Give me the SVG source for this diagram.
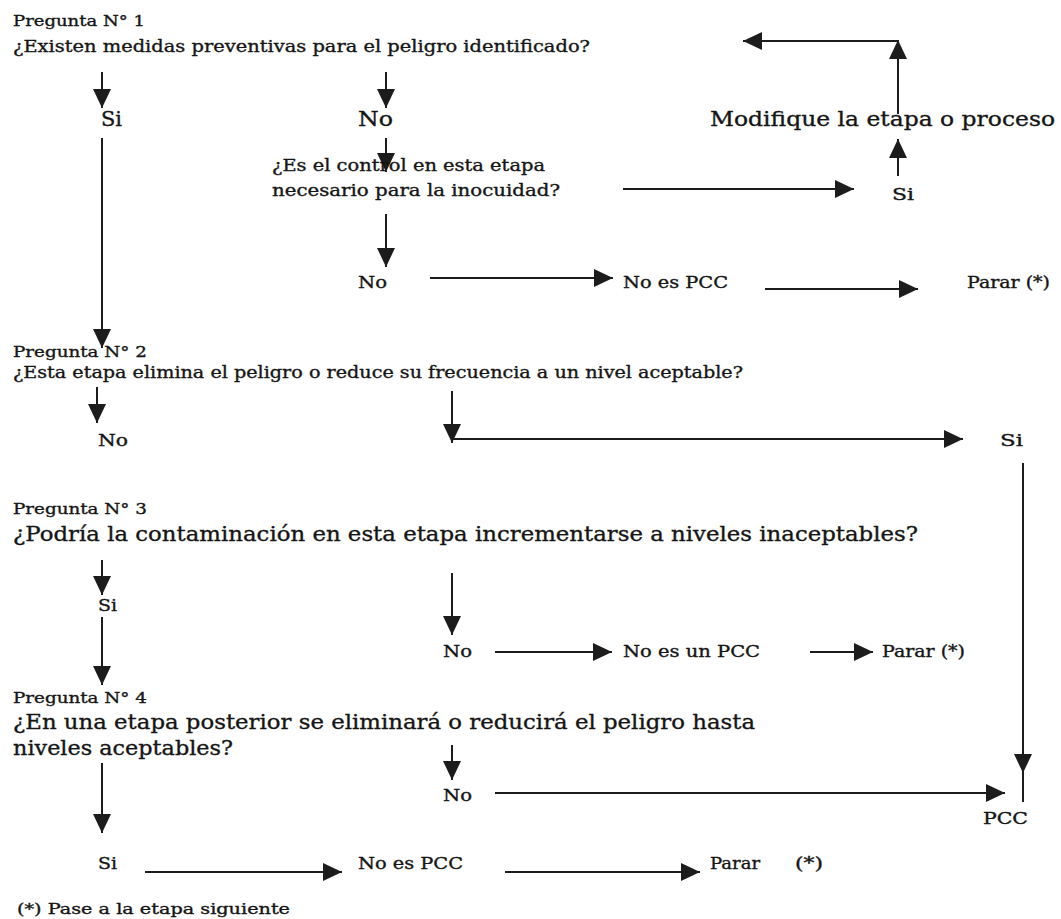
<svg xmlns="http://www.w3.org/2000/svg" width="1061" height="919" viewBox="0 0 1061 919">
<style>
text{font-family:"DejaVu Serif","Liberation Serif",serif;fill:#151515;stroke:#151515;stroke-width:0.35}
.q{font-size:17px}
.s{font-size:15px}
.m{font-size:17px}
.l{font-size:20px}
.lbl{font-size:16px}
.big{font-size:21px}
#connectors line{stroke:#1c1c1c;stroke-width:2;fill:none}
</style>
<defs>
<marker id="ah" viewBox="0 0 19 18" refX="19" refY="9" markerWidth="19" markerHeight="18" markerUnits="userSpaceOnUse" orient="auto">
<path d="M0,0 L19,9 L0,18 z" fill="#1c1c1c"/>
</marker>
</defs>
<rect width="1061" height="919" fill="#ffffff"/>

<g id="connectors">
<line x1="102" y1="72" x2="102" y2="108" marker-end="url(#ah)"/>
<line x1="386" y1="72" x2="386" y2="108" marker-end="url(#ah)"/>
<line x1="102" y1="138" x2="102" y2="348" marker-end="url(#ah)"/>
<line x1="386" y1="138" x2="386" y2="172" marker-end="url(#ah)"/>
<line x1="386" y1="214" x2="386" y2="267" marker-end="url(#ah)"/>
<line x1="623" y1="189" x2="854" y2="189" marker-end="url(#ah)"/>
<line x1="898" y1="176" x2="898" y2="139" marker-end="url(#ah)"/>
<line x1="898" y1="114" x2="898" y2="40" marker-end="url(#ah)"/>
<line x1="898" y1="41" x2="743" y2="41" marker-end="url(#ah)"/>
<line x1="430" y1="278" x2="613" y2="278" marker-end="url(#ah)"/>
<line x1="765" y1="289" x2="918" y2="289" marker-end="url(#ah)"/>
<line x1="97" y1="387" x2="97" y2="423" marker-end="url(#ah)"/>
<line x1="452" y1="391" x2="452" y2="443" marker-end="url(#ah)"/>
<line x1="452" y1="439" x2="963" y2="439" marker-end="url(#ah)"/>
<line x1="1023" y1="463" x2="1023" y2="773" marker-end="url(#ah)"/>
<line x1="1023" y1="772" x2="1023" y2="802"/>
<line x1="102" y1="560" x2="102" y2="595" marker-end="url(#ah)"/>
<line x1="102" y1="617" x2="102" y2="685" marker-end="url(#ah)"/>
<line x1="452" y1="573" x2="452" y2="635" marker-end="url(#ah)"/>
<line x1="495" y1="652" x2="612" y2="652" marker-end="url(#ah)"/>
<line x1="810" y1="652" x2="873" y2="652" marker-end="url(#ah)"/>
<line x1="102" y1="763" x2="102" y2="833" marker-end="url(#ah)"/>
<line x1="452" y1="745" x2="452" y2="780" marker-end="url(#ah)"/>
<line x1="495" y1="793" x2="1005" y2="793" marker-end="url(#ah)"/>
<line x1="145" y1="872" x2="342" y2="872" marker-end="url(#ah)"/>
<line x1="505" y1="872" x2="700" y2="872" marker-end="url(#ah)"/>
</g>

<g id="q1">
<text class="s" x="13" y="26" textLength="132" lengthAdjust="spacingAndGlyphs">Pregunta N° 1</text>
<text class="q" x="13" y="52" textLength="577" lengthAdjust="spacingAndGlyphs">¿Existen medidas preventivas para el peligro identificado?</text>
</g>
<g id="q1-si"><text class="l" x="101" y="126" textLength="21" lengthAdjust="spacingAndGlyphs">Si</text></g>
<g id="q1-no"><text class="l" x="358" y="126" textLength="35" lengthAdjust="spacingAndGlyphs">No</text></g>
<g id="q1b">
<text class="m" x="272" y="171" textLength="273" lengthAdjust="spacingAndGlyphs">¿Es el control en esta etapa</text>
<text class="m" x="272" y="196" textLength="288" lengthAdjust="spacingAndGlyphs">necesario para la inocuidad?</text>
</g>
<g id="q1b-si"><text class="lbl" x="892" y="200" textLength="22" lengthAdjust="spacingAndGlyphs">Si</text></g>
<g id="modifique"><text class="big" x="710" y="126" textLength="345" lengthAdjust="spacingAndGlyphs">Modifique la etapa o proceso</text></g>
<g id="q1b-no"><text class="lbl" x="358" y="288" textLength="29" lengthAdjust="spacingAndGlyphs">No</text></g>
<g id="q1-nopcc"><text class="lbl" x="623" y="288" textLength="105" lengthAdjust="spacingAndGlyphs">No es PCC</text></g>
<g id="q1-parar"><text class="lbl" x="967" y="288" textLength="83" lengthAdjust="spacingAndGlyphs">Parar (*)</text></g>

<g id="q2">
<text class="s" x="13" y="357" textLength="134" lengthAdjust="spacingAndGlyphs">Pregunta N° 2</text>
<text class="q" x="13" y="378" textLength="730" lengthAdjust="spacingAndGlyphs">¿Esta etapa elimina el peligro o reduce su frecuencia a un nivel aceptable?</text>
</g>
<g id="q2-no"><text class="lbl" x="98" y="446" textLength="30" lengthAdjust="spacingAndGlyphs">No</text></g>
<g id="q2-si"><text class="lbl" x="1000" y="446" textLength="23" lengthAdjust="spacingAndGlyphs">Si</text></g>

<g id="q3">
<text class="s" x="13" y="514" textLength="134" lengthAdjust="spacingAndGlyphs">Pregunta N° 3</text>
<text class="big" x="13" y="541" textLength="905" lengthAdjust="spacingAndGlyphs">¿Podría la contaminación en esta etapa incrementarse a niveles inaceptables?</text>
</g>
<g id="q3-si"><text class="lbl" x="98" y="611" textLength="19" lengthAdjust="spacingAndGlyphs">Si</text></g>
<g id="q3-no"><text class="lbl" x="443" y="657" textLength="29" lengthAdjust="spacingAndGlyphs">No</text></g>
<g id="q3-nopcc"><text class="lbl" x="623" y="657" textLength="137" lengthAdjust="spacingAndGlyphs">No es un PCC</text></g>
<g id="q3-parar"><text class="lbl" x="882" y="657" textLength="83" lengthAdjust="spacingAndGlyphs">Parar (*)</text></g>

<g id="q4">
<text class="s" x="13" y="703" textLength="134" lengthAdjust="spacingAndGlyphs">Pregunta N° 4</text>
<text class="big" x="13" y="729" textLength="742" lengthAdjust="spacingAndGlyphs">¿En una etapa posterior se eliminará o reducirá el peligro hasta</text>
<text class="big" x="13" y="755" textLength="220" lengthAdjust="spacingAndGlyphs">niveles aceptables?</text>
</g>
<g id="q4-no"><text class="lbl" x="443" y="801" textLength="29" lengthAdjust="spacingAndGlyphs">No</text></g>
<g id="pcc"><text class="lbl" x="983" y="824" textLength="45" lengthAdjust="spacingAndGlyphs">PCC</text></g>
<g id="q4-si"><text class="lbl" x="98" y="869" textLength="19" lengthAdjust="spacingAndGlyphs">Si</text></g>
<g id="q4-nopcc"><text class="lbl" x="358" y="869" textLength="105" lengthAdjust="spacingAndGlyphs">No es PCC</text></g>
<g id="q4-parar"><text class="lbl" x="710" y="869" textLength="50" lengthAdjust="spacingAndGlyphs">Parar</text><text class="lbl" x="795" y="869" textLength="28" lengthAdjust="spacingAndGlyphs">(*)</text></g>

<g id="nota"><text class="s" x="17" y="914" textLength="273" lengthAdjust="spacingAndGlyphs">(*) Pase a la etapa siguiente</text></g>
</svg>
